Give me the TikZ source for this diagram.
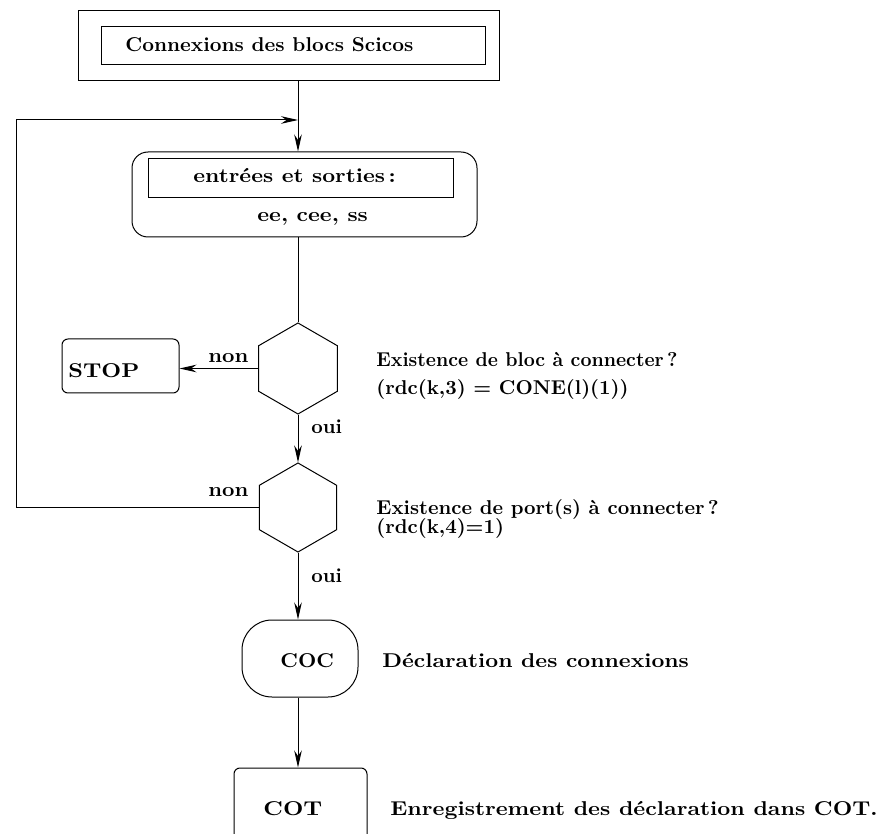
\documentclass[tikz,border=0pt]{standalone}
\usepackage{graphicx}
\usepackage{tikz}
\usetikzlibrary{arrows.meta}
\usetikzlibrary{shapes.geometric}

% horizontally stretched label
\newcommand{\etire}[2]{\scalebox{#1}[1]{#2}}

\begin{document}
\begin{tikzpicture}[x=0.5pt, y=-0.5pt, >={Stealth[length=8.5pt,width=3.8pt]}, font=\bfseries]

  % ---------- Styling ----------
  \tikzset{
    boite/.style={draw, line width=0.5pt, inner sep=0pt},
    arrondi/.style={boite, rounded corners=3pt},
    hexa/.style={draw, line width=0.5pt, shape=regular polygon,
      regular polygon sides=6, regular polygon rotate=30, inner sep=0pt},
    lien/.style={draw, line width=0.5pt, ->},
    trait/.style={draw, line width=0.5pt},
    texte/.style={anchor=base west, inner sep=0pt},
    formule/.style={texte, font=\bfseries\boldmath}
  }

  \useasboundingbox (0,0) rectangle (884,834);
  \clip (0,0) rectangle (884,834);

  % ---------- Main axis and loop corner ----------
  \coordinate (axe) at (298,0);
  \coordinate (boucle) at (16,120);

  % ---------- Title block ----------
  \node[boite, minimum width=210.5pt, minimum height=35pt] (cadre) at (288.5,46) {};
  \node[boite, minimum width=192pt, minimum height=19pt] (titre) at (293,46) {};
  \node[texte] (titre-txt) at (125,52) {\etire{1.02}{Connexions des blocs Scicos}};

  % ---------- Inputs and outputs ----------
  \node[boite, rounded corners=8pt, minimum width=172.5pt, minimum height=42.5pt] (es) at (304.5,194.5) {};
  \node[boite, minimum width=152.5pt, minimum height=19.5pt] (es-titre) at (300.5,178.5) {};
  \node[texte] (es-txt) at (193,183) {\etire{1.12}{entrées et sorties\,:}};
  \node[texte] (es-var) at (257,222) {\etire{1.12}{ee, cee, ss}};

  % ---------- Tests ----------
  \node[hexa, minimum size=45.5pt] (hex1) at (298,368.5) {};
  \node[hexa, minimum size=44.5pt] (hex2) at (298,507.5) {};

  \node[texte] (q1) at (376,366) {\etire{0.96}{Existence de bloc à connecter\,?}};
  \node[formule] (q1-cond) at (376,394) {(rdc(k,3) $=$ CONE(l)(1))};
  \node[texte] (q2) at (376,514) {Existence de port(s) à connecter\,?};
  \node[formule] (q2-cond) at (376,533) {(rdc(k,4)$=$1)};

  % ---------- Stop ----------
  \node[arrondi, minimum width=58.5pt, minimum height=27pt] (stop) at (120.5,366) {};
  \node[texte] (stop-txt) at (68,378) {\etire{1.15}{STOP}};

  % ---------- COC and COT ----------
  \node[boite, rounded corners=15pt, minimum width=58pt, minimum height=38.5pt] (coc) at (300,658.5) {};
  \node[texte] (coc-txt) at (280,667) {\etire{1.06}{COC}};
  \node[texte] (coc-com) at (382,667) {\etire{1.12}{Déclaration des connexions}};

  \node[arrondi, minimum width=66.5pt, minimum height=50pt] (cot) at (300.5,818) {};
  \node[texte] (cot-txt) at (263,815) {\etire{1.18}{COT}};
  \node[texte] (cot-com) at (390,815) {\etire{1.13}{Enregistrement des déclaration dans COT.}};

  % ---------- Connections ----------
  \draw[lien] (cadre.south -| axe) -- (es.north -| axe);
  \draw[trait] (es.south -| axe) -- (hex1.north);
  \draw[lien] (hex1.west) -- (stop.east |- hex1.west);
  \draw[lien] (hex1.south) -- (hex2.north);
  \draw[lien] (hex2.west) -| (boucle) -- (boucle -| axe);
  \draw[lien] (hex2.south) -- (coc.north -| axe);
  \draw[lien] (coc.south -| axe) -- (cot.north -| axe);

  \node[texte] (non1) at (208,363) {\etire{1.08}{non}};
  \node[texte] (oui1) at (311,433) {oui};
  \node[texte] (non2) at (208,496) {\etire{1.08}{non}};
  \node[texte] (oui2) at (311,582) {oui};

\end{tikzpicture}
\end{document}
